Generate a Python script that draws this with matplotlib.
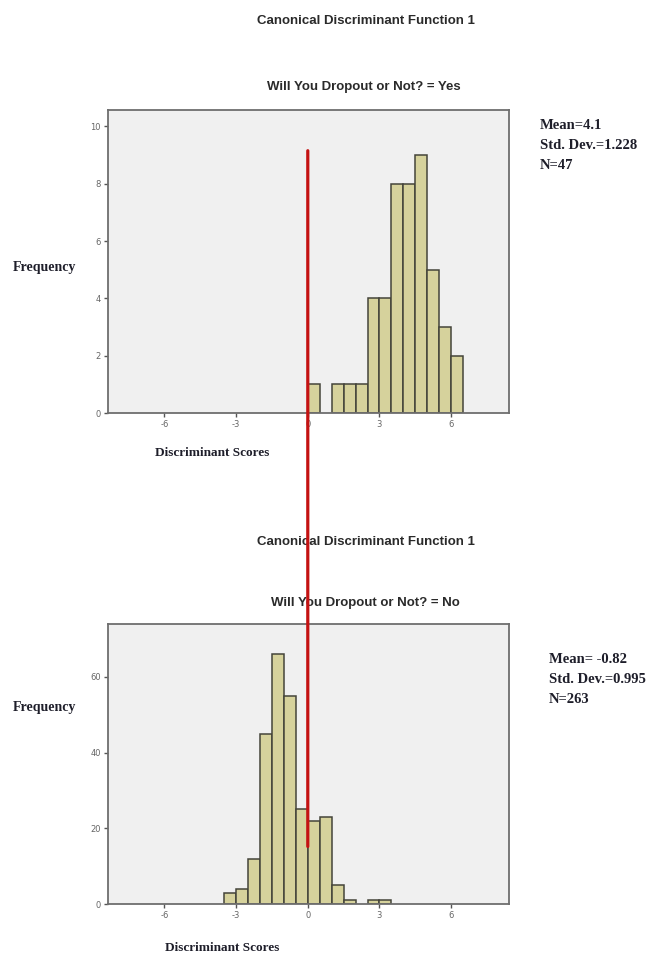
import matplotlib
matplotlib.use("Agg")
import matplotlib.pyplot as plt
from matplotlib.patches import ConnectionPatch

plt.rcParams["axes.unicode_minus"] = False

# ---- data ----
bin_width = 0.5
yes_bin_left = [0.0, 0.5, 1.0, 1.5, 2.0, 2.5, 3.0, 3.5, 4.0, 4.5, 5.0, 5.5, 6.0]
yes_counts = [1, 0, 1, 1, 1, 4, 4, 8, 8, 9, 5, 3, 2]
no_bin_left = [-3.5, -3.0, -2.5, -2.0, -1.5, -1.0, -0.5, 0.0, 0.5, 1.0, 1.5, 2.0, 2.5, 3.0]
no_counts = [3, 4, 12, 45, 66, 55, 25, 22, 23, 5, 1, 0, 1, 1]
x_ticks = [-6, -3, 0, 3, 6]
yes_yticks = [0, 2, 4, 6, 8, 10]
no_yticks = [0, 20, 40, 60]
main_title = "Canonical Discriminant Function 1"
yes_title = "Will You Dropout or Not? = Yes"
no_title = "Will You Dropout or Not? = No"
yes_stats = "Mean=4.1\nStd. Dev.=1.228\nN=47"
no_stats = "Mean= -0.82\nStd. Dev.=0.995\nN=263"
cut_x = 0.0
cut_top_y = 9.15
cut_bottom_y = 15.2

W, H = 649, 957
fig = plt.figure(figsize=(W / 100, H / 100), dpi=100)
fig.patch.set_facecolor("white")

def fx(px):
    return px / W

def fy(py):
    return 1 - py / H

ax1 = fig.add_axes([fx(108), fy(413), fx(509) - fx(108), fy(110) - fy(413)])
ax2 = fig.add_axes([fx(108), fy(904), fx(509) - fx(108), fy(624) - fy(904)])

bar_face = "#d6d29c"
bar_edge = "#44443a"
frame_col = "#6e6e6e"

def style(ax, yticks, ylim):
    ax.set_facecolor("#f0f0f0")
    ax.set_xlim(-8.36, 8.42)
    ax.set_ylim(*ylim)
    ax.set_xticks(x_ticks)
    ax.set_yticks(yticks)
    ax.tick_params(direction="out", length=3, width=1, colors="#555555",
                   labelsize=6, labelcolor="#666666", pad=2)
    for s in ax.spines.values():
        s.set_color(frame_col)
        s.set_linewidth(1.3)

b1 = [(l, c) for l, c in zip(yes_bin_left, yes_counts) if c > 0]
ax1.bar([l for l, c in b1], [c for l, c in b1], width=bin_width, align="edge",
        color=bar_face, edgecolor=bar_edge, linewidth=1.1, zorder=2)
style(ax1, yes_yticks, (0, 10.57))

b2 = [(l, c) for l, c in zip(no_bin_left, no_counts) if c > 0]
ax2.bar([l for l, c in b2], [c for l, c in b2], width=bin_width, align="edge",
        color=bar_face, edgecolor=bar_edge, linewidth=1.1, zorder=2)
style(ax2, no_yticks, (0, 74))

# red cut line across the two panels
con = ConnectionPatch(xyA=(cut_x, cut_top_y), coordsA=ax1.transData,
                      xyB=(cut_x, cut_bottom_y), coordsB=ax2.transData,
                      color="#c41212", linewidth=2.3, zorder=5)
fig.add_artist(con)

title_font = dict(family=["Liberation Sans", "DejaVu Sans"], fontweight="bold",
                  color="#2a2a2a", ha="center", va="center")
fig.text(fx(366), fy(21), main_title, fontsize=9.5, **title_font)
fig.text(fx(364), fy(87), yes_title, fontsize=9.5, **title_font)
fig.text(fx(366), fy(542), main_title, fontsize=9.5, **title_font)
fig.text(fx(365), fy(603), no_title, fontsize=9.5, **title_font)

serif = dict(family=["Liberation Serif", "DejaVu Serif"], fontweight="bold",
             color="#1e1e2a")
fig.text(fx(540), fy(119), yes_stats, fontsize=10.5, va="top", ha="left",
         linespacing=1.72, **serif)
fig.text(fx(549), fy(653), no_stats, fontsize=10.5, va="top", ha="left",
         linespacing=1.72, **serif)

fig.text(fx(13), fy(267), "Frequency", fontsize=10, va="center", ha="left", **serif)
fig.text(fx(13), fy(707), "Frequency", fontsize=10, va="center", ha="left", **serif)
fig.text(fx(155), fy(453), "Discriminant Scores", fontsize=9.5, va="center", ha="left", **serif)
fig.text(fx(165), fy(948), "Discriminant Scores", fontsize=9.5, va="center", ha="left", **serif)

fig.savefig("out.png", dpi=100, facecolor="white")
